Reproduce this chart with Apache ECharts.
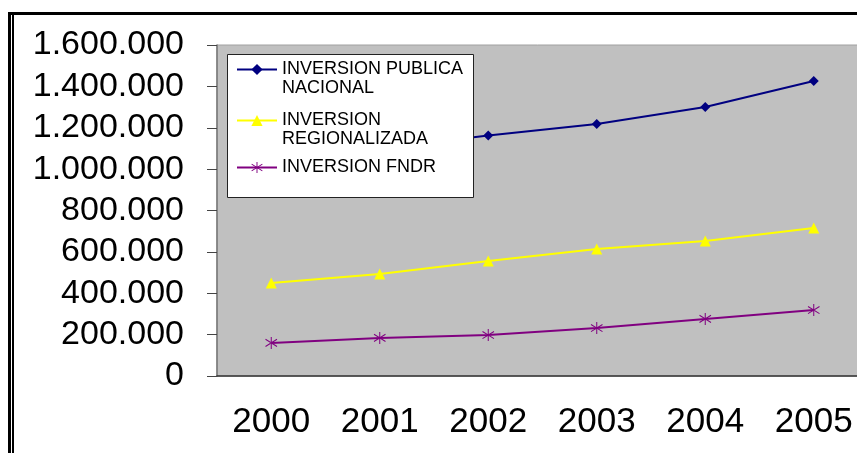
<!DOCTYPE html>
<html>
<head>
<meta charset="utf-8">
<script src="https://cdn.jsdelivr.net/npm/echarts@6/dist/echarts.min.js"></script>
<style>
  html, body { margin: 0; padding: 0; background: #fff; }
  #chart { width: 857px; height: 453px; }
</style>
</head>
<body>
<div id="chart"></div>
<script>
var years = ['2000', '2001', '2002', '2003', '2004', '2005'];
var publica = [1050000, 1100000, 1162000, 1218000, 1300000, 1426000];
var regional = [450000, 493000, 556000, 614000, 653000, 715000];
var fndr = [160000, 184000, 198000, 232000, 276000, 319000];
var names = ['INVERSION PUBLICA\nNACIONAL', 'INVERSION\nREGIONALIZADA', 'INVERSION FNDR'];

// asterisco (6 brazos) para la serie FNDR
var asterisk = 'path://M4.6 0L5.4 0L5.4 10L4.6 10Z M0.3 2.4L0.7 1.6L9.7 7.6L9.3 8.4Z M0.3 7.6L0.7 8.4L9.7 2.4L9.3 1.6Z';

var chartDom = document.getElementById('chart');
var myChart = echarts.init(chartDom);

function miles(v) {
    return String(v).replace(/\B(?=(\d{3})+(?!\d))/g, '.');
}

var option = {
    animation: false,
    grid: {
        left: 217,
        top: 45,
        width: 651,
        bottom: 77,
        outerBoundsMode: 'none',
        containLabel: false,
        show: true,
        backgroundColor: '#c0c0c0',
        borderColor: '#a0a0a0',
        borderWidth: 1
    },
    graphic: {
        elements: [
            { type: 'rect', z: 100, shape: { x: 8, y: 12, width: 849, height: 3 }, style: { fill: '#000' } },
            { type: 'rect', z: 100, shape: { x: 8, y: 12, width: 3, height: 441 }, style: { fill: '#000' } },
            { type: 'rect', z: 100, shape: { x: 12, y: 15, width: 2, height: 438 }, style: { fill: '#000' } },
            {
                type: 'rect', z: 100,
                shape: { x: 227.5, y: 54.5, width: 246, height: 143 },
                style: { fill: '#fff', stroke: '#222', lineWidth: 1 }
            }
        ]
    },
    legend: {
        orient: 'vertical',
        left: 236,
        top: 41,
        z: 110,
        padding: 0,
        itemWidth: 40,
        itemHeight: 14,
        itemGap: -6,
        textStyle: {
            color: '#000',
            fontFamily: 'Liberation Sans',
            fontSize: 18,
            lineHeight: 19
        },
        // linea en blanco delante: el icono queda a la altura de la primera linea
        formatter: function (name) {
            return name.indexOf('\n') >= 0 ? ' \n' + name : name;
        },
        data: [
            { name: names[0] },
            { name: names[1] },
            { name: names[2], textStyle: { padding: [15, 0, 15, 0] } }
        ]
    },
    xAxis: {
        type: 'category',
        data: years,
        boundaryGap: true,
        axisLine: { lineStyle: { color: '#333', width: 1.5 } },
        axisTick: { length: 10, lineStyle: { color: '#333' } },
        axisLabel: {
            margin: 29,
            color: '#000',
            fontFamily: 'Liberation Sans',
            fontSize: 35
        },
        splitLine: { show: false }
    },
    yAxis: {
        type: 'value',
        min: 0,
        max: 1600000,
        interval: 200000,
        axisLine: { show: true, lineStyle: { color: '#777', width: 1.5 } },
        axisTick: { show: true, length: 10, lineStyle: { color: '#444' } },
        axisLabel: {
            margin: 33,
            color: '#000',
            fontFamily: 'Liberation Sans',
            fontSize: 34,
            formatter: miles
        },
        splitLine: { show: false }
    },
    series: [
        {
            name: names[0],
            type: 'line',
            data: publica,
            symbol: 'diamond',
            symbolSize: 10,
            color: '#000080',
            lineStyle: { width: 2 }
        },
        {
            name: names[1],
            type: 'line',
            data: regional,
            symbol: 'triangle',
            symbolSize: 11,
            color: '#ffff00',
            lineStyle: { width: 2 }
        },
        {
            name: names[2],
            type: 'line',
            data: fndr,
            symbol: asterisk,
            symbolSize: 12,
            color: '#800080',
            lineStyle: { width: 2 }
        }
    ]
};

option && myChart.setOption(option);
</script>
</body>
</html>
